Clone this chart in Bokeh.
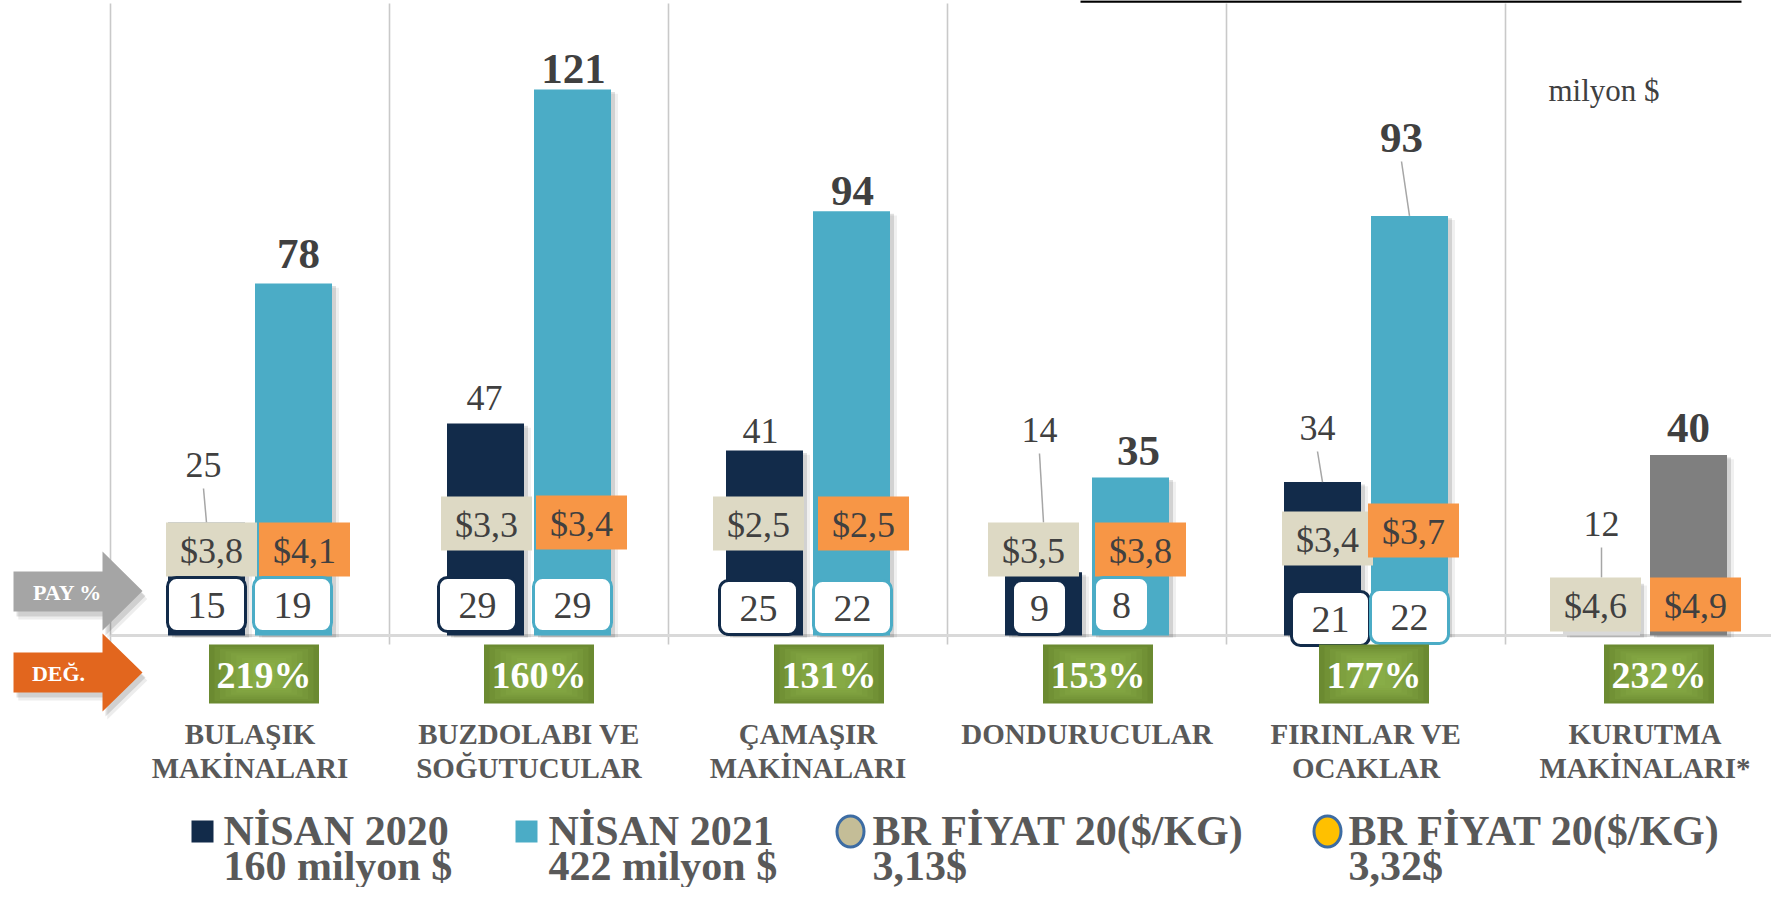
from bokeh.plotting import figure
from bokeh.models import Range1d
from bokeh.core.properties import value
from bokeh.embed import file_html
from bokeh.resources import INLINE

# ---------------- data ----------------
categories = [["BULAŞIK", "MAKİNALARI"], ["BUZDOLABI VE", "SOĞUTUCULAR"],
              ["ÇAMAŞIR", "MAKİNALARI"], ["DONDURUCULAR"],
              ["FIRINLAR VE", "OCAKLAR"], ["KURUTMA", "MAKİNALARI*"]]
exports_2020 = [25, 47, 41, 14, 34, 12]          # milyon $
exports_2021 = [78, 121, 94, 35, 93, 40]         # milyon $
share_2020 = [15, 29, 25, 9, 21, None]           # PAY %
share_2021 = [19, 29, 22, 8, 22, None]
price_2020 = [3.8, 3.3, 2.5, 3.5, 3.4, 4.6]      # $/kg
price_2021 = [4.1, 3.4, 2.5, 3.8, 3.7, 4.9]
change_pct = [219, 160, 131, 153, 177, 232]      # DEĞ. %
legend_line1 = ["NİSAN 2020", "NİSAN 2021", "BR FİYAT 20($/KG)", "BR FİYAT 20($/KG)"]
legend_line2 = ["160 milyon $", "422 milyon $", "3,13$", "3,32$"]
unit_label = "milyon $"
arrow_labels = ["PAY %", "DEĞ."]

# ---------------- styles ----------------
C20 = ["#122B4A"] * 5 + ["#D9D9D9"]
C21 = ["#4BACC6"] * 5 + ["#7F7F7F"]
BEIGE, ORANGE = "#DDD9C4", "#F79646"
TXT, CAT_TXT = "#404040", "#595959"
FONT = value("Liberation Serif")

# ---------------- layout (reference pixels) ----------------
W, H, PAGE = 1771, 887, 0
X0, DX = 110.0, 279.0      # x px of category 0 start, px per category
Y0, DY = 635.0, 4.512      # y px of value 0, px per milyon $

def xd(px): return (px - X0) / DX
def yd(py): return (Y0 - py) / DY
def wd(pw): return pw / DX
def hd(ph): return ph / DY

n = len(categories)
cpx = [X0 + DX * (i + 0.5) for i in range(n)]           # category centre px
b20px = [c - 43.5 for c in cpx]
b21px = [c + 43.5 for c in cpx]
BAR_W = 77

lab20_dx = [-3, -1, -4, -4, -5, 0]
lab20_y = [464, 397, 430, 429, 427, 523]
lab21_dx = [5, 1, 1, 8, -8, 0]
lab21_y = [253, 68, 190, 450, 137, 427]
lead20 = [True, False, False, True, True, True]
lead21 = [False, False, False, False, True, False]

pr20_dx = [5, 1, -6, -10, 5, -6]
pr21_dx = [11, 9, 12, 10, 4, 7]
pr20_y = [549, 523, 523, 549, 538, 604]
pr21_y = [549, 522, 523, 549, 530, 604]
PR_W, PR_H = 91, 54

sh20_dx = [0, -8, -6, -4, 8]
sh21_dx = [-1, 0, 1, -9, 0]
sh20_y = [604, 604, 607, 607, 618]
sh21_y = [604, 604, 607, 604, 616]
SH_H = 54

pct_dx = [14, 10, 21, 11, 8, 14]
PCT_Y, PCT_W, PCT_H = 673.5, 110, 59
CAT_Y = [733, 767]

p = figure(width=W, height=H,
           x_range=Range1d(xd(PAGE), xd(PAGE + W)),
           y_range=Range1d(yd(PAGE + H), yd(PAGE)),
           output_backend="svg", toolbar_location=None,
           x_axis_location=None, y_axis_location=None, min_border=0)
p.grid.visible = False
p.outline_line_color = None
p.background_fill_color = "white"

# thin black rule at the top edge
p.segment(x0=xd(1080), y0=yd(1), x1=xd(1741), y1=yd(1), line_color="black", line_width=2.5)

# vertical separators and baseline
p.segment(x0=list(range(n + 1)), y0=yd(3), x1=list(range(n + 1)), y1=yd(644),
          line_color="#C9C9C9", line_width=1.6)
p.segment(x0=0, y0=0, x1=n, y1=0, line_color="#D9D9D9", line_width=3)

# bar shadows
for xs, vals in ((b20px, exports_2020), (b21px, exports_2021)):
    for off, a in ((7, 0.06), (4, 0.12)):
        p.vbar(x=[xd(x + off) for x in xs], top=[v - hd(off * 0.6) for v in vals],
               bottom=hd(-2), width=wd(BAR_W), fill_color="black", fill_alpha=a, line_color=None)

# bars
p.vbar(x=[xd(x) for x in b20px], top=exports_2020, bottom=0, width=wd(BAR_W),
       fill_color=C20, line_color=None)
p.vbar(x=[xd(x) for x in b21px], top=exports_2021, bottom=0, width=wd(BAR_W),
       fill_color=C21, line_color=None)

# value labels + leader lines
l20x = [b + d for b, d in zip(b20px, lab20_dx)]
l21x = [b + d for b, d in zip(b21px, lab21_dx)]
for i in range(n):
    for lead, lx, ly, bx, v, py in ((lead20[i], l20x[i], lab20_y[i], b20px[i], exports_2020[i], pr20_y[i]),
                                    (lead21[i], l21x[i], lab21_y[i], b21px[i], exports_2021[i], pr21_y[i])):
        if lead:
            end_py = min(Y0 - v * DY, py - PR_H / 2)
            p.segment(x0=xd(lx), y0=yd(ly + 24), x1=xd(bx), y1=yd(end_py),
                      line_color="#A6A6A6", line_width=1.5)
p.text(x=[xd(x) for x in l20x], y=[yd(y) for y in lab20_y], text=[str(v) for v in exports_2020],
       text_font=FONT, text_font_size="36px", text_color=TXT,
       text_align="center", text_baseline="middle")
p.text(x=[xd(x) for x in l21x], y=[yd(y) for y in lab21_y], text=[str(v) for v in exports_2021],
       text_font=FONT, text_font_size="43px", text_font_style="bold", text_color=TXT,
       text_align="center", text_baseline="middle")

# price boxes
def fmt_price(v): return ("$%.1f" % v).replace(".", ",")
for xs, dxs, ys, vals, col in ((b20px, pr20_dx, pr20_y, price_2020, BEIGE),
                               (b21px, pr21_dx, pr21_y, price_2021, ORANGE)):
    cx = [x + d for x, d in zip(xs, dxs)]
    p.rect(x=[xd(x) for x in cx], y=[yd(y) for y in ys], width=wd(PR_W), height=hd(PR_H),
           fill_color=col, line_color=None)
    p.text(x=[xd(x) for x in cx], y=[yd(y + 1) for y in ys], text=[fmt_price(v) for v in vals],
           text_font=FONT, text_font_size="36px", text_color=TXT,
           text_align="center", text_baseline="middle")

# share (PAY %) boxes
for xs, dxs, ys, vals, col in ((b20px, sh20_dx, sh20_y, share_2020, C20[0]),
                               (b21px, sh21_dx, sh21_y, share_2021, C21[0])):
    idx = [i for i, v in enumerate(vals) if v is not None]
    cx = [xs[i] + dxs[i] for i in idx]
    ww = [54 if vals[i] < 10 else 78 for i in idx]
    p.quad(left=[xd(c - w / 2) for c, w in zip(cx, ww)], right=[xd(c + w / 2) for c, w in zip(cx, ww)],
           top=[yd(ys[i] - SH_H / 2) for i in idx], bottom=[yd(ys[i] + SH_H / 2) for i in idx],
           fill_color="white", line_color=col, line_width=3, border_radius=9)
    p.text(x=[xd(c) for c in cx], y=[yd(ys[i] + 1) for i in idx], text=[str(vals[i]) for i in idx],
           text_font=FONT, text_font_size="38px", text_color=TXT,
           text_align="center", text_baseline="middle")

# change (DEĞ.) boxes with a soft radial look
pcx = [c + d for c, d in zip(cpx, pct_dx)]
p.rect(x=[xd(x) for x in pcx], y=yd(PCT_Y), width=wd(PCT_W), height=hd(PCT_H),
       fill_color="#6B8A31", line_color=None)
for k in range(1, 9):
    f = 1 - k * 0.1
    p.rect(x=[xd(x) for x in pcx], y=yd(PCT_Y), width=wd(PCT_W * f), height=hd(PCT_H * (0.25 + 0.75 * f)),
           fill_color="#9CC055", fill_alpha=0.13, line_color=None)
p.text(x=[xd(x) for x in pcx], y=yd(PCT_Y + 1), text=["%d%%" % v for v in change_pct],
       text_font=FONT, text_font_size="38px", text_font_style="bold", text_color="white",
       text_align="center", text_baseline="middle")

# category labels
for li in range(2):
    idx = [i for i, c in enumerate(categories) if len(c) > li]
    p.text(x=[xd(cpx[i]) for i in idx], y=yd(CAT_Y[li]), text=[categories[i][li] for i in idx],
           text_font=FONT, text_font_size="29px", text_font_style="bold", text_color=CAT_TXT,
           text_align="center", text_baseline="middle")

# side arrows
def arrow(top, bot, head_top, head_bot):
    mid = (head_top + head_bot) / 2
    xs = [13, 102, 102, 142, 102, 102, 13]
    ys = [top, top, head_top, mid, head_bot, bot, bot]
    return xs, ys

for (top, bot, ht, hb), col, lab, tx in (((571, 611, 551, 630), "#A5A5A5", arrow_labels[0], 67),
                                         ((652, 692, 633, 711), "#E2661E", arrow_labels[1], 58)):
    xs, ys = arrow(top, bot, ht, hb)
    for off, a in ((8, 0.07), (5, 0.12)):
        p.patch(x=[xd(x + off * 0.6) for x in xs], y=[yd(y + off) for y in ys],
                fill_color="black", fill_alpha=a, line_color=None)
    p.patch(x=[xd(x) for x in xs], y=[yd(y) for y in ys], fill_color=col, line_color=None)
    p.text(x=xd(tx), y=yd((top + bot) / 2 + 1), text=[lab], text_font=FONT, text_font_size="22px",
           text_font_style="bold", text_color="white", text_align="center", text_baseline="middle")

# unit label
p.text(x=xd(1548), y=yd(90), text=[unit_label], text_font=FONT, text_font_size="31px",
       text_color=TXT, text_align="left", text_baseline="middle")

# legend
LEG_Y1, LEG_Y2 = 830, 865
sq_left = [191, 515]
sq_cols = [C20[0], C21[0]]
for l, c in zip(sq_left, sq_cols):
    p.quad(left=xd(l), right=xd(l + 22), top=yd(LEG_Y1 - 10), bottom=yd(LEG_Y1 + 12),
           fill_color=c, line_color=None)
circ_x = [850, 1327]
circ_cols = ["#C4BD97", "#FFC000"]
p.ellipse(x=[xd(x) for x in circ_x], y=yd(LEG_Y1 + 1), width=wd(27), height=hd(31),
          fill_color=circ_cols, line_color="#3D6CA3", line_width=3)
txt_x = [223, 548, 872, 1348]
p.text(x=[xd(x) for x in txt_x], y=yd(LEG_Y1), text=legend_line1, text_font=FONT,
       text_font_size="42px", text_font_style="bold", text_color=CAT_TXT,
       text_align="left", text_baseline="middle")
p.text(x=[xd(x) for x in txt_x], y=yd(LEG_Y2), text=legend_line2, text_font=FONT,
       text_font_size="42px", text_font_style="bold", text_color=CAT_TXT,
       text_align="left", text_baseline="middle")

open("out.html", "w").write(file_html(p, INLINE))
